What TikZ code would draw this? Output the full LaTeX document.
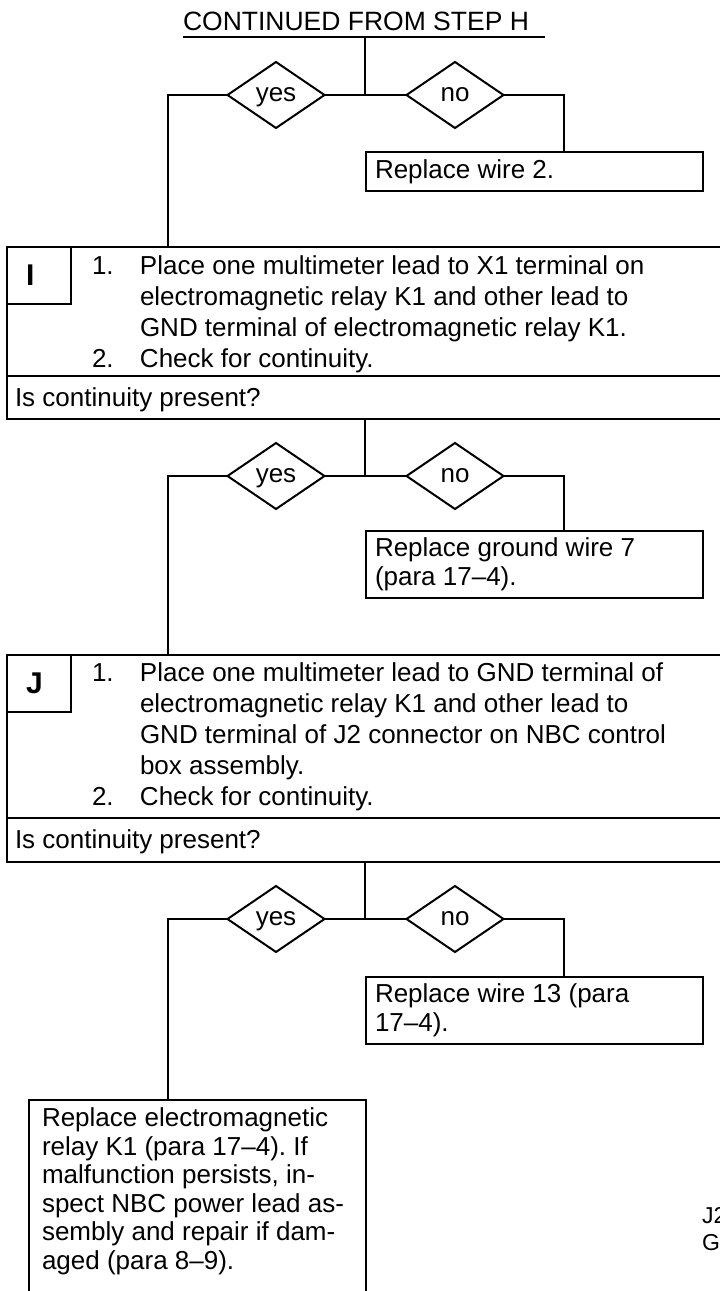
\documentclass[tikz,border=0pt]{standalone}
\usepackage{fontspec}
\setmainfont{Liberation Sans}
\usetikzlibrary{shapes.geometric, positioning}

\begin{document}
\frenchspacing
\begin{tikzpicture}[
    x=1pt, y=-1pt,
    line width=2pt,
    every node/.style={font=\fontsize{26}{31}\selectfont, inner sep=0pt, outer sep=0pt,
        execute at begin node={\spaceskip=0pt\xspaceskip=0pt\relax}},
    title/.style={anchor=base west, font=\fontsize{26.5}{31}\selectfont},
    stepbox/.style={rectangle, draw, anchor=north west, minimum width=730pt},
    labelbox/.style={rectangle, draw, anchor=north west, minimum width=64pt, minimum height=57pt, text width=26pt, inner xsep=19pt, align=left, font=\fontsize{30}{34}\selectfont\bfseries},
    steptext/.style={anchor=base west},
    askbox/.style={rectangle, draw, anchor=north west, minimum width=730pt, text width=714pt, inner xsep=8pt, align=left, text height=22pt, text depth=5pt},
    decision/.style={diamond, draw, minimum width=97pt, minimum height=66pt, text height=14pt, text depth=2pt},
    fixbox/.style={rectangle, draw, anchor=north west, minimum width=337pt, text width=319pt, inner xsep=9pt, align=left, font=\fontsize{26}{29}\selectfont},
    line/.style={draw}
]
    \useasboundingbox (0,0) rectangle (720,1291);
    \clip (0,0) rectangle (720,1291);

    % Heading
    \node[title] (title) at (183,30) {CONTINUED FROM STEP H};
    \coordinate (rule) at ([yshift=-7pt]title.base west);
    \draw[line] (rule) -- ++(362,0);

    % Step I
    \node[stepbox, minimum height=129pt] (stepI) at (7,247) {};
    \node[labelbox] (labI) at (stepI.north west) {I};
    \node[steptext] (txtI) at (92,274) {\begin{tabular}[t]{@{}p{48pt}@{}l@{}}
        1. & Place one multimeter lead to X1 terminal on\\
           & electromagnetic relay K1 and other lead to\\
           & GND terminal of electromagnetic relay K1.\\
        2. & Check for continuity.
    \end{tabular}};
    \node[askbox, minimum height=43pt] (askI) at (stepI.south west) {Is continuity present?};

    % Step J
    \node[stepbox, minimum height=163pt] (stepJ) at (7,655) {};
    \node[labelbox] (labJ) at (stepJ.north west) {J};
    \node[steptext] (txtJ) at (92,681) {\begin{tabular}[t]{@{}p{48pt}@{}l@{}}
        1. & Place one multimeter lead to GND terminal of\\
           & electromagnetic relay K1 and other lead to\\
           & GND terminal of J2 connector on NBC control\\
           & box assembly.\\
        2. & Check for continuity.
    \end{tabular}};
    \node[askbox, minimum height=44pt] (askJ) at (stepJ.south west) {Is continuity present?};

    % Decisions
    \node[decision] (yes1) at (276,95) {yes};
    \node[decision] (no1) at (455,95) {no};
    \coordinate (split1) at (365,95);
    \node[decision] (yes2) at (276,476) {yes};
    \node[decision] (no2) at (455,476) {no};
    \coordinate (split2) at (365,476);
    \node[decision] (yes3) at (276,919) {yes};
    \node[decision] (no3) at (455,919) {no};
    \coordinate (split3) at (365,919);

    % Repairs
    \node[fixbox, minimum height=39pt] (fix1) at (366,152) {Replace wire 2.};
    \node[fixbox, minimum height=67pt] (fix2) at (366,531) {Replace ground wire 7\\(para 17--4).};
    \node[fixbox, minimum height=67pt] (fix3) at (366,977) {Replace wire 13 (para\\17--4).};
    \node[fixbox, text width=311pt, inner xsep=13pt, inner ysep=8pt, font=\fontsize{26}{28.5}\selectfont] (fixEnd) at (29,1100) {Replace electromagnetic\\relay K1 (para 17--4). If\\malfunction persists, in-\\spect NBC power lead as-\\sembly and repair if dam-\\aged (para 8--9).\par\vspace{20pt}\mbox{}};

    \node[anchor=north west, align=left, font=\fontsize{23}{27}\selectfont] (tag) at (702,1207) {J2\\G};

    % Lines
    \draw[line] (split1 |- rule) -- (split1);
    \draw[line] (yes1) -- (no1);
    \draw[line] (yes1.west) -| ([xshift=161pt]stepI.north west);
    \draw[line] (no1.east) -| ([xshift=198pt]fix1.north west);

    \draw[line] (askI.south -| split2) -- (split2);
    \draw[line] (yes2) -- (no2);
    \draw[line] (yes2.west) -| ([xshift=161pt]stepJ.north west);
    \draw[line] (no2.east) -| ([xshift=198pt]fix2.north west);

    \draw[line] (askJ.south -| split3) -- (split3);
    \draw[line] (yes3) -- (no3);
    \draw[line] (yes3.west) -| ([xshift=139pt]fixEnd.north west);
    \draw[line] (no3.east) -| ([xshift=198pt]fix3.north west);

\end{tikzpicture}
\end{document}
